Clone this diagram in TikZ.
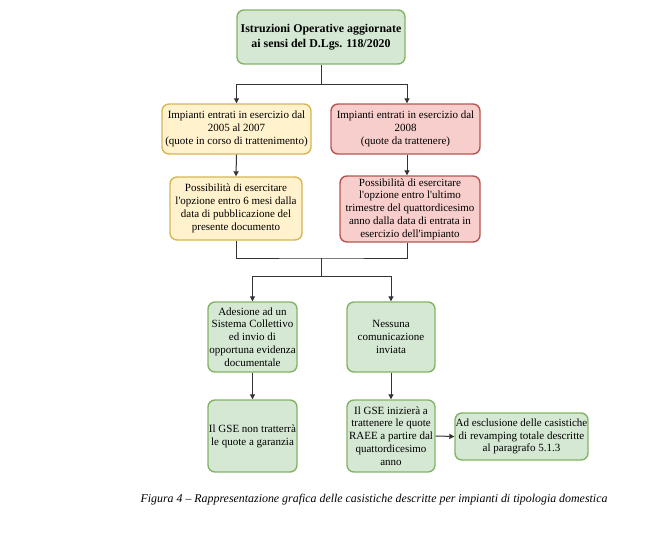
\documentclass[tikz,border=0pt]{standalone}
\usepackage{fontspec}
\setmainfont{Liberation Serif}
\usetikzlibrary{arrows.meta}
\definecolor{gfill}{HTML}{D5E8D4}
\definecolor{gdraw}{HTML}{82B366}
\definecolor{yfill}{HTML}{FFF2CC}
\definecolor{ydraw}{HTML}{D6B656}
\definecolor{rfill}{HTML}{F8CECC}
\definecolor{rdraw}{HTML}{B85450}
\definecolor{linec}{HTML}{333333}
\newcommand{\ap}{\textquotesingle}
\tikzset{
  box/.style={draw, line width=1.4pt, rounded corners=7pt, align=center, inner sep=0pt,
    font=\fontsize{11}{12.8}\selectfont},
  gbox/.style={box, fill=gfill, draw=gdraw},
  ybox/.style={box, fill=yfill, draw=ydraw},
  rbox/.style={box, fill=rfill, draw=rdraw},
  conn/.style={draw=linec, line width=1pt},
  arr/.style={conn, -{Triangle[length=5pt,width=5pt]}}
}
\begin{document}
\begin{tikzpicture}[x=1pt,y=-1pt]
\useasboundingbox (0,0) rectangle (665,536);
\node[gbox, minimum width=168pt, minimum height=54pt, font=\fontsize{11.9}{15}\selectfont\bfseries] (top) at (321,37)
  {Istruzioni Operative aggiornate\\ai sensi del D.Lgs. 118/2020};
\node[ybox, minimum width=149pt, minimum height=50pt] (y1) at (236.5,129)
  {Impianti entrati in esercizio dal\\2005 al 2007\\(quote in corso di trattenimento)};
\node[rbox, minimum width=149pt, minimum height=50pt] (r1) at (405.5,129)
  {Impianti entrati in esercizio dal\\2008\\(quote da trattenere)};
\node[ybox, minimum width=132pt, minimum height=63pt] (y2) at (236,208.5)
  {Possibilità di esercitare\\l\ap opzione entro 6 mesi dalla\\data di pubblicazione del\\presente documento};
\node[rbox, minimum width=140pt, minimum height=66pt] (r2) at (410,209)
  {Possibilità di esercitare\\l\ap opzione entro l\ap ultimo\\trimestre del quattordicesimo\\anno dalla data di entrata in\\esercizio dell\ap impianto};
\node[gbox, minimum width=89pt, minimum height=70pt] (g1) at (252.5,337)
  {Adesione ad un\\Sistema Collettivo\\ed invio di\\opportuna evidenza\\documentale};
\node[gbox, minimum width=88pt, minimum height=70pt] (g2) at (391,337)
  {Nessuna\\comunicazione\\inviata};
\node[gbox, minimum width=89pt, minimum height=72pt] (g3) at (252.5,436)
  {Il GSE non tratterrà\\le quote a garanzia};
\node[gbox, minimum width=88pt, minimum height=72pt] (g4) at (391,436)
  {Il GSE inizierà a\\trattenere le quote\\RAEE a partire dal\\quattordicesimo\\anno};
\node[gbox, minimum width=133pt, minimum height=47pt] (g5) at (521.5,436.5)
  {Ad esclusione delle casistiche\\di revamping totale descritte\\al paragrafo 5.1.3};
\coordinate (j1) at (321,84);
\coordinate (j2) at (321,258);
\coordinate (j3) at (321,276);
\coordinate (rx) at (407,0);
\draw[conn] (top.south) -- (j1);
\draw[arr] (j1) -| (y1.north);
\draw[arr] (j1) -| (rx |- r1.north);
\draw[arr] (y1.south) -- (y2.north);
\draw[arr] (rx |- r1.south) -- (rx |- r2.north);
\draw[conn] (y2.south) |- (j2) -| (rx |- r2.south);
\draw[conn] (j2) -- (j3);
\draw[arr] (j3) -| (g1.north);
\draw[arr] (j3) -| (g2.north);
\draw[arr] (g1.south) -- (g3.north);
\draw[arr] (g2.south) -- (g4.north);
\draw[arr] (g4.east) -- (g5.west);
\node[font=\fontsize{11.9}{13}\selectfont\itshape, inner sep=0pt] (cap) at (374,500)
  {Figura 4 – Rappresentazione grafica delle casistiche descritte per impianti di tipologia domestica};
\end{tikzpicture}
\end{document}
